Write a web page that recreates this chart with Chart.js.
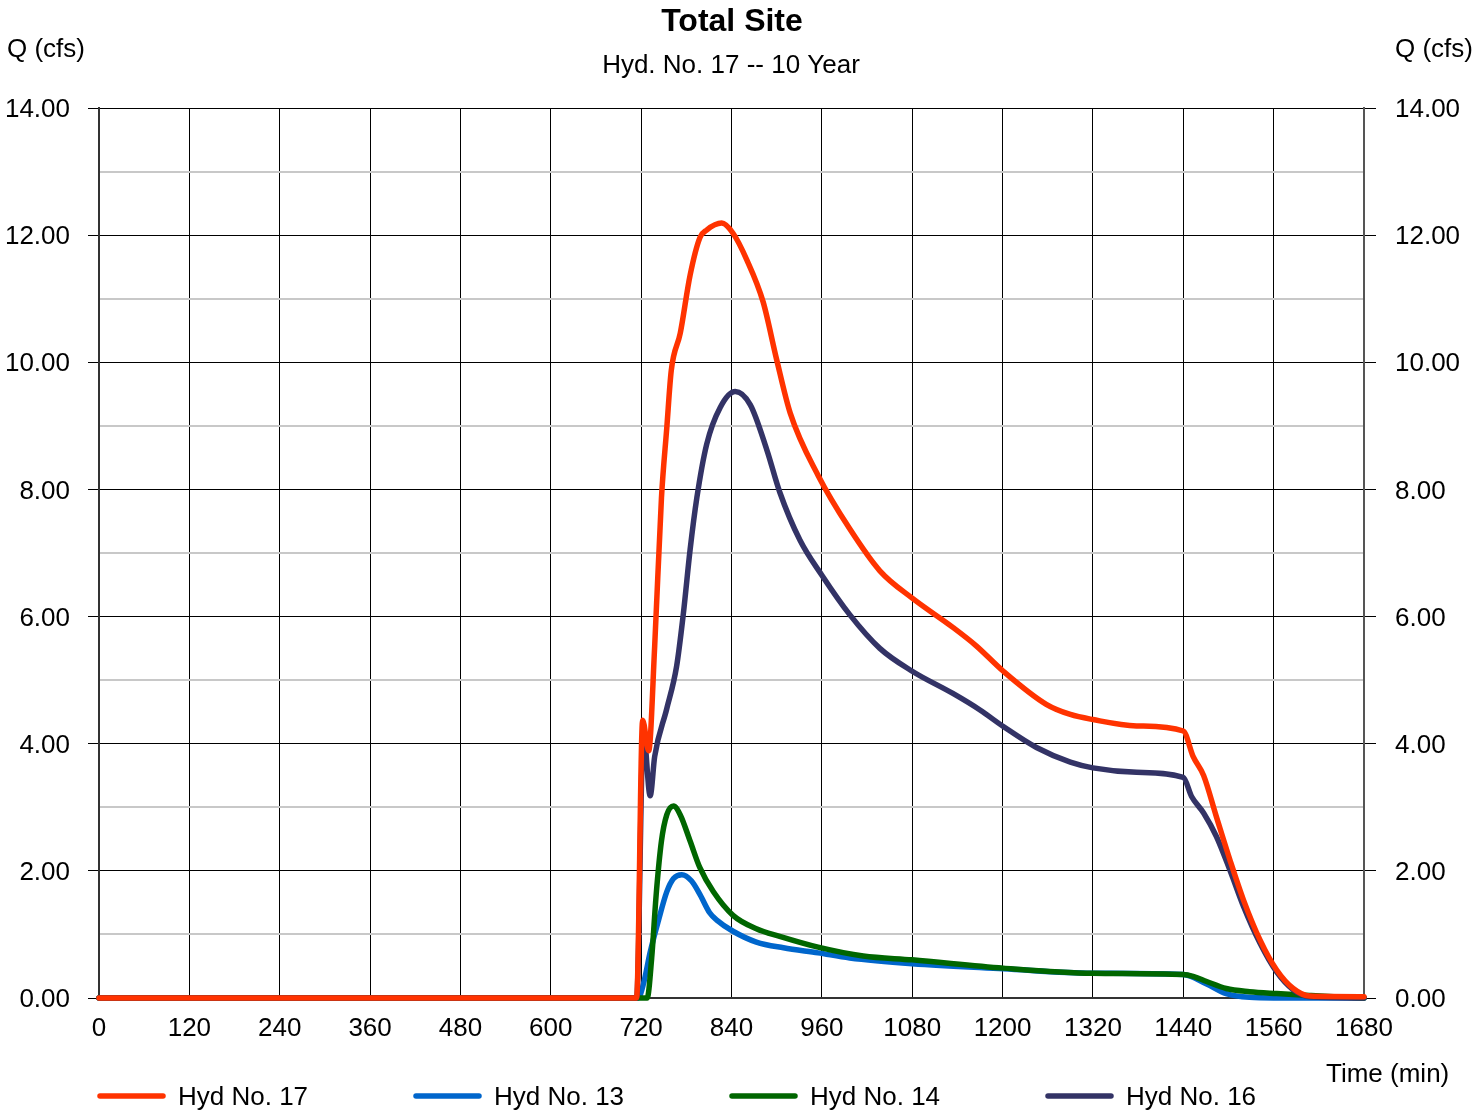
<!DOCTYPE html>
<html>
<head>
<meta charset="utf-8">
<title>Total Site</title>
<script src="https://cdn.jsdelivr.net/npm/chart.js@4.4.1/dist/chart.umd.min.js"></script>
<style>
  body { margin: 0; background: #fff; }
  #wrap { width: 1473px; height: 1114px; }
</style>
</head>
<body>
<div id="wrap"><canvas id="hydChart" width="1473" height="1114"></canvas></div>
<script>
  const t17 = [0, 714, 722, 730, 738, 747, 754, 760, 772, 785, 798, 807, 827, 842, 860, 882, 900, 918, 955, 997, 1037, 1080, 1134, 1165, 1201, 1258, 1290, 1320, 1378, 1440, 1453, 1467, 1484, 1502, 1520, 1542, 1564, 1586, 1608, 1680];
  const q17 = [0, 0, 4.37, 3.89, 5.54, 7.87, 8.96, 9.87, 10.46, 11.37, 11.96, 12.08, 12.19, 12.03, 11.62, 10.95, 10.04, 9.2, 8.22, 7.38, 6.72, 6.29, 5.83, 5.54, 5.14, 4.62, 4.46, 4.38, 4.28, 4.2, 3.8, 3.5, 2.85, 2.17, 1.54, 0.91, 0.44, 0.15, 0.03, 0.02];

  const t13 = [0, 716, 723, 732, 743, 754, 763, 774, 787, 798, 811, 820, 842, 873, 909, 955, 997, 1080, 1201, 1320, 1440, 1471, 1497, 1528, 1560, 1680];
  const q13 = [0, 0, 0.22, 0.72, 1.22, 1.67, 1.88, 1.94, 1.84, 1.63, 1.34, 1.23, 1.05, 0.88, 0.79, 0.71, 0.63, 0.54, 0.46, 0.39, 0.37, 0.22, 0.07, 0.01, 0, 0];

  const t14 = [0, 728, 734, 740, 747, 754, 763, 772, 785, 798, 816, 842, 873, 904, 955, 1015, 1080, 1201, 1320, 1440, 1453, 1471, 1497, 1528, 1564, 1608, 1640, 1680];
  const q14 = [0, 0, 0.63, 1.63, 2.47, 2.88, 3.02, 2.88, 2.47, 2.05, 1.67, 1.3, 1.09, 0.97, 0.8, 0.66, 0.6, 0.47, 0.39, 0.37, 0.34, 0.26, 0.15, 0.1, 0.07, 0.04, 0.02, 0];

  const t16 = [0, 714, 723, 732, 738, 754, 767, 776, 785, 794, 807, 825, 845, 865, 887, 904, 931, 960, 997, 1037, 1080, 1134, 1170, 1201, 1245, 1290, 1320, 1378, 1440, 1451, 1467, 1484, 1502, 1520, 1542, 1564, 1586, 1608, 1680];
  const q16 = [0, 0, 4.2, 3.18, 3.8, 4.55, 5.21, 6.04, 7.05, 7.87, 8.71, 9.29, 9.54, 9.33, 8.62, 7.96, 7.2, 6.65, 6.03, 5.5, 5.14, 4.79, 4.53, 4.27, 3.94, 3.71, 3.62, 3.55, 3.47, 3.17, 2.91, 2.54, 2.01, 1.44, 0.86, 0.41, 0.13, 0.02, 0];

  const seriesNames = ["Hyd No. 17", "Hyd No. 13", "Hyd No. 14", "Hyd No. 16"];
  const seriesColors = ["#ff3300", "#0066cc", "#006600", "#333366"];

  const FONT = "'Liberation Sans', Arial, sans-serif";

  function pts(t, q) {
    return t.map((x, i) => ({ x: x, y: q[i] }));
  }

  function line(idx, t, q, order) {
    return {
      label: seriesNames[idx],
      data: pts(t, q),
      borderColor: seriesColors[idx],
      borderWidth: 5.5,
      pointRadius: 0,
      fill: false,
      clip: 6,
      cubicInterpolationMode: 'monotone',
      borderCapStyle: 'round',
      borderJoinStyle: 'round',
      order: order
    };
  }

  // titles, axis captions and legend drawn by hand
  const textPlugin = {
    id: 'texts',
    afterDraw(chart) {
      const c = chart.ctx;
      c.save();
      c.fillStyle = '#000';
      c.textBaseline = 'middle';

      c.textAlign = 'center';
      c.font = "bold 32px " + FONT;
      c.fillText("Total Site", 732, 22);
      c.font = "26px " + FONT;
      c.fillText("Hyd. No. 17 -- 10 Year", 731, 66);

      c.textAlign = 'left';
      c.fillText("Q (cfs)", 7, 50);
      c.fillText("Q (cfs)", 1395, 50);
      c.fillText("Time (min)", 1326, 1075);

      for (let i = 0; i < seriesNames.length; i++) {
        const x0 = 98 + i * 316;
        c.strokeStyle = seriesColors[i];
        c.lineWidth = 5.5;
        c.lineCap = 'round';
        c.beginPath();
        c.moveTo(x0 + 2, 1096);
        c.lineTo(x0 + 65, 1096);
        c.stroke();
        c.fillText(seriesNames[i], x0 + 80, 1098);
      }
      c.restore();
    }
  };

  const gridColor = ctx => (ctx.tick && ctx.tick.value % 2) ? '#c8c8c8' : '#000';
  const gridWidth = ctx => (ctx.tick && ctx.tick.value % 2) ? 2 : 1;
  const tickColor = ctx => (ctx.tick && ctx.tick.value % 2) ? 'rgba(0,0,0,0)' : '#000';
  const yLabel = v => (v % 2) ? '' : v.toFixed(2);

  new Chart(document.getElementById("hydChart"), {
    type: 'line',
    data: {
      datasets: [
        line(0, t17, q17, 0),
        line(1, t13, q13, 3),
        line(2, t14, q14, 2),
        line(3, t16, q16, 1)
      ]
    },
    options: {
      responsive: false,
      animation: false,
      layout: { padding: { top: 108, left: 0, right: 0, bottom: 0 } },
      plugins: {
        legend: { display: false },
        title: { display: false },
        tooltip: { enabled: false }
      },
      scales: {
        x: {
          type: 'linear',
          min: 0,
          max: 1680,
          afterFit: s => { s.height = 116; },
          ticks: { stepSize: 120, color: '#000', font: { size: 26, family: FONT }, padding: 15, maxRotation: 0, callback: v => String(v) },
          grid: { color: '#000', lineWidth: 1, drawTicks: false },
          border: { color: '#333', width: 2 }
        },
        y: {
          position: 'left',
          min: 0,
          max: 14,
          afterFit: s => { s.width = 99; },
          ticks: { stepSize: 1, color: '#000', font: { size: 26, family: FONT }, padding: 18, labelOffset: 2, callback: yLabel },
          grid: { color: gridColor, lineWidth: gridWidth, tickLength: 11, tickColor: tickColor, tickWidth: 1 },
          border: { color: '#333', width: 2 }
        },
        y2: {
          position: 'right',
          min: 0,
          max: 14,
          afterFit: s => { s.width = 109; },
          ticks: { stepSize: 1, color: '#000', font: { size: 26, family: FONT }, padding: 19, labelOffset: 2, callback: yLabel },
          grid: { drawOnChartArea: false, tickLength: 12, tickColor: tickColor, tickWidth: 1 },
          border: { color: '#555', width: 2 }
        }
      }
    },
    plugins: [textPlugin]
  });
</script>
</body>
</html>
